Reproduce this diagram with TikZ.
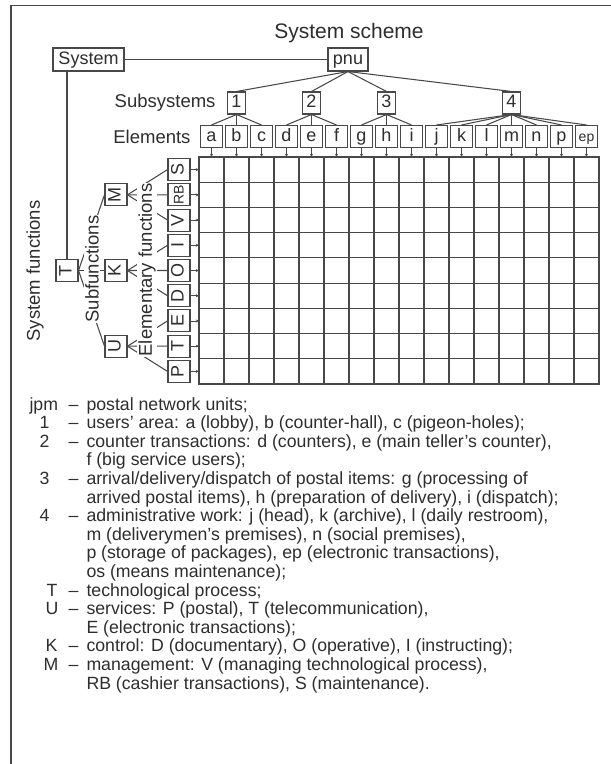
\documentclass[tikz,border=0pt]{standalone}
\usepackage{fontspec}
\setmainfont{Liberation Sans}
\usetikzlibrary{arrows.meta}
\definecolor{ln}{HTML}{484848}
\definecolor{tx}{HTML}{2E2E2E}
\begin{document}
\begin{tikzpicture}[x=1pt,y=-1pt,
  line width=1pt,
  conn/.style={draw=ln, line width=1.05pt},
  arr/.style={draw=ln, line width=0.8pt, -{Stealth[length=3.2pt,width=3pt]}},
  bx/.style={draw=ln, line width=1.05pt, fill=white, inner sep=0pt, text=tx,
     minimum width=22pt, minimum height=22pt, text height=13pt, text depth=4pt,
     font=\fontsize{18}{18}\selectfont},
  rbx/.style={bx, rotate=90},
  lbl/.style={text=tx, inner sep=0pt, font=\fontsize{18.5}{18.5}\selectfont},
  wlbl/.style={lbl, fill=white, inner sep=1pt},
  leg/.style={text=tx, inner sep=0pt, anchor=base west, font=\fontsize{17.7}{18}\selectfont}
]
\useasboundingbox (0,0) rectangle (611,764);
\fill[white] (0,0) rectangle (611,764);
% frame
\draw[conn] (11,780) -- (11,5.5) -- (630,5.5);

% title
\node[lbl, font=\fontsize{21}{21}\selectfont] (title) at (349,33) {System scheme};

% top nodes
\node[bx, minimum width=71pt, minimum height=23pt] (sys) at (88.5,59.5) {System};
\node[bx, minimum width=40pt, minimum height=23pt] (pnu) at (348,59.5) {pnu};
\draw[conn] (sys.east) -- (pnu.west);

% subsystems
\node[bx, minimum width=18pt] (s1) at (236.5,103) {1};
\node[bx, minimum width=18pt] (s2) at (311.5,103) {2};
\node[bx, minimum width=18pt] (s3) at (386.5,103) {3};
\node[bx, minimum width=18pt] (s4) at (511.5,103) {4};
\node[lbl, anchor=east] (sublbl) at (216,103) {Subsystems};
\foreach \s in {s1,s2,s3,s4} \draw[conn] (pnu.south) -- (\s.north);

% elements
\foreach \n [count=\i from 0] in {a,b,c,d,e,f,g,h,i,j,k,l,m,n,p} {
  \node[bx] (e\i) at ({211.5+25*\i},136.5) {\n};
}
\node[bx, font=\fontsize{14}{14}\selectfont] (e15) at ({211.5+25*15},136.5) {ep};
\node[lbl, anchor=east] (ellbl) at (191,136.5) {Elements};
\foreach \i in {0,1,2} \draw[conn] (s1.south) -- (e\i.north);
\foreach \i in {3,4,5} \draw[conn] (s2.south) -- (e\i.north);
\foreach \i in {6,7,8} \draw[conn] (s3.south) -- (e\i.north);
\foreach \i in {9,...,15} \draw[conn] (s4.south) -- (e\i.north);

% grid
\draw[conn] (199,157) rectangle (599,384);
\foreach \k in {1,...,15} \draw[conn] ({199+25*\k},157) -- ({199+25*\k},384);
\foreach \k in {1,...,8} \draw[conn] (199,{157+227/9*\k}) -- (599,{157+227/9*\k});
\foreach \i in {0,...,15} {
  \coordinate (gt\i) at ({211.5+25*\i},157);
  \draw[arr] (e\i.south) -- (gt\i);
}

% elementary function boxes
\foreach \n [count=\i from 0] in {S,RB,V,I,O,D,E,T,P} {
  \coordinate (gl\i) at (199,{157+227/18+227/9*\i});
}
\node[rbx] (fS) at (179,{157+227/18+227/9*0}) {S};
\node[rbx, font=\fontsize{14}{14}\selectfont] (fRB) at (179,{157+227/18+227/9*1}) {RB};
\node[rbx] (fV) at (179,{157+227/18+227/9*2}) {V};
\node[rbx] (fI) at (179,{157+227/18+227/9*3}) {I};
\node[rbx] (fO) at (179,{157+227/18+227/9*4}) {O};
\node[rbx] (fD) at (179,{157+227/18+227/9*5}) {D};
\node[rbx] (fE) at (179,{157+227/18+227/9*6}) {E};
\node[rbx] (fT) at (179,{157+227/18+227/9*7}) {T};
\node[rbx] (fP) at (179,{157+227/18+227/9*8}) {P};
\foreach \f [count=\i from 0] in {fS,fRB,fV,fI,fO,fD,fE,fT,fP} \draw[arr] (\f.south) -- (gl\i);

% subfunction boxes
\node[rbx] (M) at (116,194.8) {M};
\node[rbx] (K) at (116,270.5) {K};
\node[rbx] (U) at (116,346.2) {U};
\node[rbx] (T) at (67,270.5) {T};
\draw[conn] (sys.south -| T) -- (T.east);

% connectors (rotated nodes: south is on the right, north on the left)
\foreach \f in {M,K,U} \draw[conn] (T.south) -- (\f.north);
\foreach \f in {fS,fRB,fV} \draw[conn] (M.south) -- (\f.north);
\foreach \f in {fI,fO,fD} \draw[conn] (K.south) -- (\f.north);
\foreach \f in {fE,fT,fP} \draw[conn] (U.south) -- (\f.north);

% rotated labels
\node[lbl, rotate=90] (sysf) at (35,271) {System functions};
\node[wlbl, rotate=90] (subf) at (92,269) {Subfunctions};
\node[wlbl, rotate=90] (elf) at (147,270) {Elementary functions};

% legend
\node[leg] (k0) at (29,{410+18.6*0}) {jpm};
\node[leg] (k1) at (39,{410+18.6*1}) {1};
\node[leg] (k2) at (39,{410+18.6*2}) {2};
\node[leg] (k4) at (39,{410+18.6*4}) {3};
\node[leg] (k6) at (39,{410+18.6*6}) {4};
\node[leg] (k10) at (46,{410+18.6*10}) {T};
\node[leg] (k11) at (45,{410+18.6*11}) {U};
\node[leg] (k13) at (45,{410+18.6*13}) {K};
\node[leg] (k14) at (43,{410+18.6*14}) {M};
\foreach \i in {0,1,2,4,6,10,11,13,14} \node[leg] (d\i) at (68,{410+18.6*\i}) {–};
\node[leg] (t0) at (86,{410+18.6*0}) {postal network units;};
\node[leg] (t1) at (86,{410+18.6*1}) {users’ area: a (lobby), b (counter-hall), c (pigeon-holes);};
\node[leg] (t2) at (86,{410+18.6*2}) {counter transactions: d (counters), e (main teller’s counter),};
\node[leg] (t3) at (86,{410+18.6*3}) {f (big service users);};
\node[leg] (t4) at (86,{410+18.6*4}) {arrival/delivery/dispatch of postal items: g (processing of};
\node[leg] (t5) at (86,{410+18.6*5}) {arrived postal items), h (preparation of delivery), i (dispatch);};
\node[leg] (t6) at (86,{410+18.6*6}) {administrative work: j (head), k (archive), l (daily restroom),};
\node[leg] (t7) at (86,{410+18.6*7}) {m (deliverymen’s premises), n (social premises),};
\node[leg] (t8) at (86,{410+18.6*8}) {p (storage of packages), ep (electronic transactions),};
\node[leg] (t9) at (86,{410+18.6*9}) {os (means maintenance);};
\node[leg] (t10) at (86,{410+18.6*10}) {technological process;};
\node[leg] (t11) at (86,{410+18.6*11}) {services: P (postal), T (telecommunication),};
\node[leg] (t12) at (86,{410+18.6*12}) {E (electronic transactions);};
\node[leg] (t13) at (86,{410+18.6*13}) {control: D (documentary), O (operative), I (instructing);};
\node[leg] (t14) at (86,{410+18.6*14}) {management: V (managing technological process),};
\node[leg] (t15) at (86,{410+18.6*15}) {RB (cashier transactions), S (maintenance).};
\end{tikzpicture}
\end{document}
